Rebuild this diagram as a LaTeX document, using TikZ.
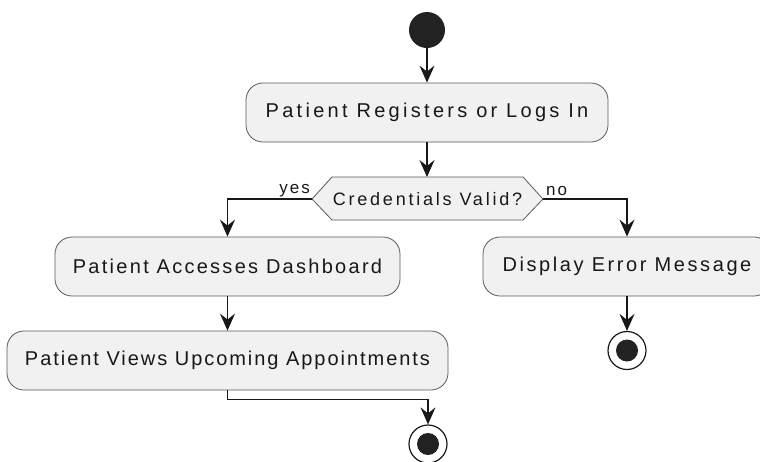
\documentclass[tikz,border=0pt]{standalone}
\usepackage{fontspec}
\setmainfont{Liberation Sans}
\usetikzlibrary{arrows.meta}
\definecolor{actfill}{HTML}{F1F1F1}
\definecolor{actline}{HTML}{5A5A5A}
\definecolor{ink}{HTML}{181818}
\definecolor{dot}{HTML}{222222}
\newcommand{\actfont}[1]{\fontsize{20}{22}\selectfont\addfontfeatures{LetterSpace=#1}}
\tikzset{
  action/.style={draw=actline, line width=0.8pt, fill=actfill, rounded corners=17pt,
    minimum height=59pt, inner xsep=0pt, text=ink},
  flow/.style={draw=ink, line width=1.4pt, -{Stealth[length=17pt,width=15pt,inset=6pt]}},
  branchlabel/.style={font=\fontsize{17}{19}\selectfont\addfontfeatures{LetterSpace=12}, text=ink, inner sep=0pt},
  startdot/.style={circle, fill=dot, minimum size=36pt, inner sep=0pt},
  stopring/.style={circle, draw=ink, line width=1.2pt, fill=white, minimum size=38pt, inner sep=0pt},
  stopdot/.style={circle, fill=dot, minimum size=22pt, inner sep=0pt},
}
\begin{document}
\begin{tikzpicture}[x=1pt,y=-1pt]
  \useasboundingbox (0,0) rectangle (760,461);
  \clip (0,0) rectangle (760,461);
  % start
  \node[startdot] (start) at (427,30) {};
  % first action
  \node[action, minimum width=362pt, font=\actfont{16.5}] (reg) at (427,112.5) {Patient Registers or Logs In};
  % decision hexagon
  \coordinate (dl) at (312,199);
  \coordinate (dr) at (543,199);
  \filldraw[fill=actfill, draw=actline, line width=0.8pt]
    (dl) -- (332,177) -- (523,177) -- (dr) -- (523,220) -- (332,220) -- cycle;
  \node[font=\fontsize{18}{20}\selectfont\addfontfeatures{LetterSpace=15.5}, text=ink] (cond) at (427.5,199) {Credentials Valid?};
  % branches
  \node[action, minimum width=345pt, font=\actfont{11.4}] (dash) at (227.5,266.5) {Patient Accesses Dashboard};
  \node[action, minimum width=441pt, font=\actfont{9.8}] (appt) at (227.5,360.5) {Patient Views Upcoming Appointments};
  \node[action, minimum width=288pt, font=\actfont{12.9}] (err) at (627,266.5) {Display Error Message};
  % end points
  \node[stopring] (end1) at (627,350.5) {};
  \node[stopdot] at (end1) {};
  \node[stopring] (end2) at (428,444) {};
  \node[stopdot] at (end2) {};
  % connectors
  \draw[flow] (start) -- (reg);
  \draw[flow] (reg) -- (reg.south |- 177,177);
  \draw[flow] (dl) -| (dash.north);
  \draw[flow] (dr) -| (err.north);
  \draw[flow] (dash) -- (appt);
  \draw[flow] (err) -- (end1);
  \draw[flow] (appt.south) -- ++(0,9) -| (end2.north);
  \node[branchlabel, anchor=south east] (yes) at (310,197) {yes};
  \node[branchlabel, anchor=south west] (no) at (546,196) {no};
\end{tikzpicture}
\end{document}
